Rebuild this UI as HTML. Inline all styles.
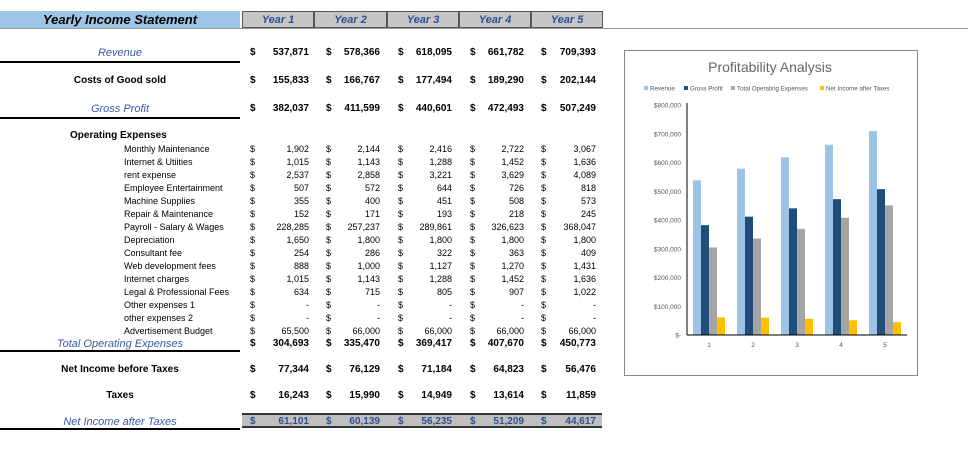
<!DOCTYPE html>
<html><head><meta charset="utf-8"><style>
body{margin:0;width:968px;height:450px;background:#fff;position:relative;overflow:hidden;font-family:"Liberation Sans",Arial,sans-serif}
.a{position:absolute;white-space:nowrap}
.b{font-weight:bold;font-size:10px}
.s{font-size:9px}
.blue{color:#3a5aa0;font-style:italic;font-size:11px}
.yh{position:absolute;top:11px;height:17px;background:#c6c6c6;border:1px solid #555;box-sizing:border-box;text-align:center;font:italic bold 11px "Liberation Sans",sans-serif;color:#2f4f8f;line-height:16px}
</style></head><body>
<div class="a" style="left:0;top:11px;width:240px;height:17px;background:#9dc3e6;text-align:center;font:italic bold 13px 'Liberation Sans',sans-serif;line-height:17px">Yearly Income Statement</div>
<div class="a" style="left:0;top:28px;width:968px;height:1px;background:#999"></div>
<div class="a" style="left:242px;top:413px;width:360px;height:15px;background:#bfbfbf;border-top:2px solid #333;border-bottom:2px solid #333;box-sizing:border-box"></div>
<div id="tbl"></div>
<svg class="a" style="left:0;top:0" width="968" height="450" id="ch"></svg>
<script>
const years=["Year 1","Year 2","Year 3","Year 4","Year 5"];
const xs=[242,314,387,459,531,603];
years.forEach((y,i)=>{const d=document.createElement('div');d.className='yh';d.style.left=xs[i]+'px';d.style.width=(xs[i+1]-xs[i])+'px';d.textContent=y;


document.body.appendChild(d);});
const rows=[
["Revenue",52,"blue",["537,871","578,366","618,095","661,782","709,393"],61],
["Costs of Good sold",80,"b",["155,833","166,767","177,494","189,290","202,144"]],
["Gross Profit",108,"blue",["382,037","411,599","440,601","472,493","507,249"],117],
["Total Operating Expenses",343,"blue",["304,693","335,470","369,417","407,670","450,773"],350],
["Net Income before Taxes",369,"b",["77,344","76,129","71,184","64,823","56,476"]],
["Taxes",395,"b",["16,243","15,990","14,949","13,614","11,859"]],
["Net Income after Taxes",421,"blue",["61,101","60,139","56,235","51,209","44,617"],428]];
const items=[["Monthly Maintenance",["1,902","2,144","2,416","2,722","3,067"]],["Internet & Utiities",["1,015","1,143","1,288","1,452","1,636"]],["rent expense",["2,537","2,858","3,221","3,629","4,089"]],["Employee Entertainment",["507","572","644","726","818"]],["Machine Supplies",["355","400","451","508","573"]],["Repair & Maintenance",["152","171","193","218","245"]],["Payroll - Salary & Wages",["228,285","257,237","289,861","326,623","368,047"]],["Depreciation",["1,650","1,800","1,800","1,800","1,800"]],["Consultant fee",["254","286","322","363","409"]],["Web development fees",["888","1,000","1,127","1,270","1,431"]],["Internet charges",["1,015","1,143","1,288","1,452","1,636"]],["Legal & Professional Fees",["634","715","805","907","1,022"]],["Other expenses 1",["-","-","-","-","-"]],["other expenses 2",["-","-","-","-","-"]],["Advertisement Budget",["65,500","66,000","66,000","66,000","66,000"]]];
const dX=[250,326,398,470,541],vR=[309,380,452,524,596];
function add(txt,cls,x,y,al,name,color){const d=document.createElement('div');d.className='a '+cls;d.textContent=txt;
d.style.top=(y-6)+'px';d.style.lineHeight='14px';
if(color)d.style.color=color;
if(al==='r'){d.style.right=(968-x)+'px';}else if(al==='c'){d.style.left=(x-120)+'px';d.style.width='240px';d.style.textAlign='center';}else d.style.left=x+'px';


document.getElementById('tbl').appendChild(d);}
rows.forEach(r=>{const cls=r[2]==='blue'?'blue':'b';const nm=r[0].toLowerCase().replace(/[^a-z]+/g,'-');
add(r[0],cls,120,r[1],'c',nm+'-label');
const col=r[0].startsWith('Net Income after')?'#2f4f8f':null;
r[3].forEach((v,i)=>{add('$','b',dX[i],r[1],'l',nm+'-dollar',col);add(v,'b',vR[i],r[1],'r',nm+'-value',col);});
if(r[4]){const l=document.createElement('div');l.className='a';l.style.cssText='left:0;width:240px;height:2px;background:#000;top:'+r[4]+'px';


document.getElementById('tbl').appendChild(l);}});
add('Operating Expenses','b',70,135,'l','operating-expenses-label');
items.forEach((it,k)=>{const y=148+k*13;const nm='item-'+(k+1);add(it[0],'s',124,y,'l',nm+'-label');
it[1].forEach((v,i)=>{add('$','s',dX[i],y,'l',nm+'-dollar');add(v,'s',vR[i],y,'r',nm+'-value');});});
</script>
<script>
const cats=["1","2","3","4","5"];
const revenue=[537871,578366,618095,661782,709393];
const grossProfit=[382037,411599,440601,472493,507249];
const totalOpex=[304693,335470,369417,407670,450773];
const netIncome=[61101,60139,56235,51209,44617];
const yTicks=[0,100000,200000,300000,400000,500000,600000,700000,800000];
const yTickLabels=["$-","$100,000","$200,000","$300,000","$400,000","$500,000","$600,000","$700,000","$800,000"];
const seriesNames=["Revenue","Gross Profit","Total Operating Expenses","Net Income after Taxes"];
const svg=document.getElementById('ch');const NS='http://www.w3.org/2000/svg';
function el(t,a,name){const e=document.createElementNS(NS,t);for(const k in a)e.setAttribute(k,a[k]);


svg.appendChild(e);return e;}
const x0=687,x1=907,yTop=105,yBot=335;
const yS=v=>yBot-(v/800000)*(yBot-yTop);
const cw=(x1-x0)/cats.length;
el('rect',{x:624.5,y:50.5,width:293,height:325,fill:'#fff',stroke:'#888'},'chart-frame');
const t=el('text',{x:770,y:72,'text-anchor':'middle','font-size':14,fill:'#666','font-family':'Liberation Sans,sans-serif'},'chart-title');t.textContent='Profitability Analysis';
const cols=['#9dc3e6','#1f4e79','#a5a5a5','#ffc000'];
const lx=[644,684,731,820];
seriesNames.forEach((n,i)=>{el('rect',{x:lx[i],y:86,width:4,height:4,fill:cols[i]},'legend-swatch');
const tx=el('text',{x:lx[i]+6,y:90.5,'font-size':6.2,fill:'#555','font-family':'Liberation Sans,sans-serif'},'legend-entry');tx.textContent=n;});
yTicks.forEach((v,i)=>{const tx=el('text',{x:x0-6,y:yS(v)+2.5,'text-anchor':'end','font-size':6.5,fill:'#555','font-family':'Liberation Sans,sans-serif'},'y-tick-label');tx.textContent=yTickLabels[i];});
const series=[revenue,grossProfit,totalOpex,netIncome];
const bw=8;
cats.forEach((c,ci)=>{const cx=x0+cw*(ci+0.5);
series.forEach((s,si)=>{const bx=cx-2*bw+si*bw;el('rect',{x:bx,y:yS(s[ci]),width:bw,height:yBot-yS(s[ci]),fill:cols[si]},'bar-'+seriesNames[si].toLowerCase().replace(/ /g,'-')+'-'+c);});
const tx=el('text',{x:cx,y:yBot+12,'text-anchor':'middle','font-size':6.5,fill:'#555','font-family':'Liberation Sans,sans-serif'},'x-tick-label');tx.textContent=c;});
el('line',{x1:x0,y1:yTop-2,x2:x0,y2:yBot,stroke:'#000','stroke-width':1},'y-axis');
el('line',{x1:x0,y1:yBot,x2:x1,y2:yBot,stroke:'#000','stroke-width':1},'x-axis');
</script>
</body></html>
